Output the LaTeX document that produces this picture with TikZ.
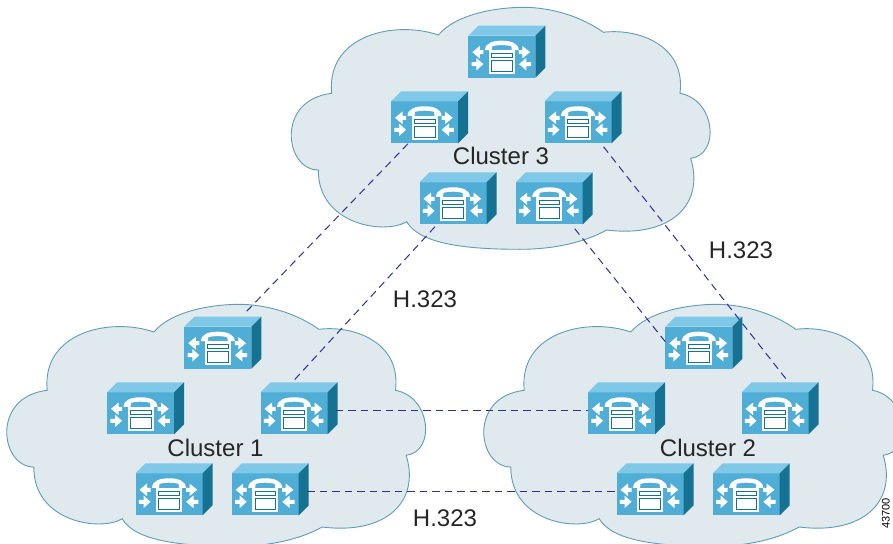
\documentclass[tikz,border=0pt]{standalone}
\usepackage{fontspec}
\setmainfont{Liberation Sans}
\definecolor{cloudfill}{HTML}{DFE9EE}
\definecolor{cloudline}{HTML}{5F9DB5}
\definecolor{boxfront}{HTML}{4FADD6}
\definecolor{boxtop}{HTML}{7FC8E8}
\definecolor{boxside}{HTML}{167292}
\definecolor{trunk}{HTML}{2E3192}
\tikzset{
  cloudshape/.style={draw=cloudline,fill=cloudfill,line width=0.9pt},
  trunkline/.style={draw=trunk,line width=1pt,dash pattern=on 7.5pt off 5pt},
  phonenode/.style={minimum width=77pt,minimum height=52pt,inner sep=0pt,anchor=north west},
  label/.style={font=\fontsize{24}{24}\selectfont,text=black!85},
  callmgr/.pic={
    \fill[boxfront] (0,10) rectangle (67,52);
    \fill[boxtop] (0,10) -- (10,0) -- (77,0) -- (67,10) -- cycle;
    \fill[boxside] (67,10) -- (77,0) -- (77,42) -- (67,52) -- cycle;
    \fill[white] (4,26.5) -- (11.5,20.2) -- (11.5,24.5) -- (15,24.5) -- (15,28.5) -- (11.5,28.5) -- (11.5,32.8) -- cycle;
    \fill[white] (15,38.5) -- (8,32.2) -- (8,36.5) -- (3.3,36.5) -- (3.3,40.5) -- (8,40.5) -- (8,44.8) -- cycle;
    \fill[white] (61.7,26.5) -- (54,20.2) -- (54,24.5) -- (50.5,24.5) -- (50.5,28.5) -- (54,28.5) -- (54,32.8) -- cycle;
    \fill[white] (50.7,38.5) -- (58,32.2) -- (58,36.5) -- (62.8,36.5) -- (62.8,40.5) -- (58,40.5) -- (58,44.8) -- cycle;
    \fill[white] (16.5,24.5) .. controls (17,17) and (25,15) .. (33.5,15) .. controls (42,15) and (50,17) .. (50.5,24.5)
      -- (43.5,24.5) -- (43,20.5) .. controls (38,19) and (29,19) .. (24,20.5) -- (23.5,24.5) -- cycle;
    \fill[white] (20.5,24.5) rectangle (46.5,48.7);
    \filldraw[draw=boxside,fill=white,line width=0.9pt] (23.3,27.9) rectangle (44,31.9);
    \filldraw[draw=boxside,fill=white,line width=0.9pt] (23.3,35.2) rectangle (44,45.9);
  }
}
\newcommand{\cloudpath}{
  \path[cloudshape] (438.3,35) .. controls (456,14) and (496,7.5) .. (523.3,7.3)
    .. controls (556,7.5) and (585,19) .. (603.3,32.3)
    .. controls (638,28) and (686,45) .. (680,93.3)
    .. controls (716,100) and (720,155) .. (690.7,158.3)
    .. controls (705,205) and (670,238) .. (606.7,230)
    .. controls (585,242) and (555,249.3) .. (520,249.3)
    .. controls (470,249.3) and (420,245) .. (406.7,221.7)
    .. controls (385,235) and (318,225) .. (318.3,170)
    .. controls (285,170) and (275,100) .. (331.7,93.3)
    .. controls (326,35) and (395,20) .. (438.3,35) -- cycle;
}
\newcommand{\phonebox}[3]{
  \node[phonenode] (#1) at (#2,#3) {};
  \pic at (#2,#3) {callmgr};
}

\begin{document}
\begin{tikzpicture}[x=1pt,y=-1pt]
  \useasboundingbox (0,0) rectangle (893,543);
  \clip (0,0) rectangle (893,543);
  \begin{scope}
    \cloudpath
  \end{scope}
  \begin{scope}[shift={(-284.5,297)}]
    \cloudpath
  \end{scope}
  \begin{scope}[shift={(192.5,297)}]
    \cloudpath
  \end{scope}
  \begin{scope}
    \phonebox{cthreea}{468.3}{25.7}
    \phonebox{cthreeb}{391}{91.3}
    \phonebox{cthreec}{544.5}{91.3}
    \phonebox{cthreed}{419.5}{172.3}
    \phonebox{cthreee}{515.7}{172.3}
    \node[label] (cthree) at (501,156) {Cluster 3};
  \end{scope}
  \begin{scope}[shift={(-284,291)}]
    \phonebox{conea}{468.3}{25.7}
    \phonebox{coneb}{391}{91.3}
    \phonebox{conec}{544.5}{91.3}
    \phonebox{coned}{419.5}{172.3}
    \phonebox{conee}{515.7}{172.3}
    \node[label] (cone) at (499.5,157) {Cluster 1};
  \end{scope}
  \begin{scope}[shift={(197,291)}]
    \phonebox{ctwoa}{468.3}{25.7}
    \phonebox{ctwob}{391}{91.3}
    \phonebox{ctwoc}{544.5}{91.3}
    \phonebox{ctwod}{419.5}{172.3}
    \phonebox{ctwoe}{515.7}{172.3}
    \node[label] (ctwo) at (511,157) {Cluster 2};
  \end{scope}
  \draw[trunkline] ([xshift=17pt]cthreeb.south west) -- ([xshift=61pt,yshift=4pt]conea.north west);
  \draw[trunkline] ([xshift=15.5pt,yshift=-2pt]cthreed.south west) -- ([xshift=33.5pt,yshift=2pt]conec.north west);
  \draw[trunkline] ([xshift=-2pt,yshift=-2pt]conec.east) -- ([yshift=-2pt]ctwob.west);
  \draw[trunkline] ([xshift=-2pt,yshift=-2pt]conee.east) -- ([yshift=-2pt]ctwod.west);
  \draw[trunkline] ([xshift=59pt,yshift=-4pt]cthreee.south west) -- ([yshift=-25pt]ctwoa.north west);
  \draw[trunkline] ([xshift=59pt,yshift=-3pt]cthreec.south west) -- ([xshift=46pt,yshift=1.5pt]ctwoc.north west);
  \node[label] (hone) at (741,250) {H.323};
  \node[label] (htwo) at (425,299.5) {H.323};
  \node[label] (hthree) at (445,518) {H.323};
  \node[rotate=90,anchor=base,inner sep=0pt,font=\fontsize{11}{11}\selectfont] (figno) at (889.5,513.5) {43700};
\end{tikzpicture}
\end{document}
